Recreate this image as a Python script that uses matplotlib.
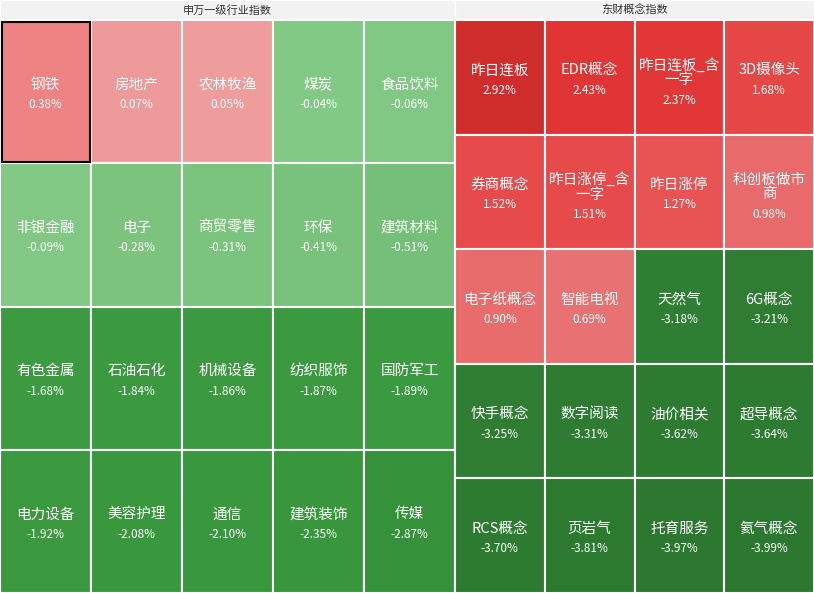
import matplotlib
matplotlib.use("Agg")
import matplotlib.pyplot as plt
import numpy as np
from matplotlib.colors import to_rgb

plt.rcParams['font.family'] = ['Noto Sans CJK SC', 'DejaVu Sans']

left_title = "申万一级行业指数"
left_names = ["钢铁", "房地产", "农林牧渔", "煤炭", "食品饮料",
              "非银金融", "电子", "商贸零售", "环保", "建筑材料",
              "有色金属", "石油石化", "机械设备", "纺织服饰", "国防军工",
              "电力设备", "美容护理", "通信", "建筑装饰", "传媒"]
left_values = [0.38, 0.07, 0.05, -0.04, -0.06,
               -0.09, -0.28, -0.31, -0.41, -0.51,
               -1.68, -1.84, -1.86, -1.87, -1.89,
               -1.92, -2.08, -2.10, -2.35, -2.87]

right_title = "东财概念指数"
right_names = ["昨日连板", "EDR概念", "昨日连板_含\n一字", "3D摄像头",
               "券商概念", "昨日涨停_含\n一字", "昨日涨停", "科创板做市\n商",
               "电子纸概念", "智能电视", "天然气", "6G概念",
               "快手概念", "数字阅读", "油价相关", "超导概念",
               "RCS概念", "页岩气", "托育服务", "氦气概念"]
right_values = [2.92, 2.43, 2.37, 1.68,
                1.52, 1.51, 1.27, 0.98,
                0.90, 0.69, -3.18, -3.21,
                -3.25, -3.31, -3.62, -3.64,
                -3.70, -3.81, -3.97, -3.99]

def color_for(v):
    if v >= 0:
        stops = [(0, "#eea0a0"), (0.4, "#ef8080"), (0.7, "#e87070"), (1.0, "#e86a6a"),
                 (1.3, "#e85050"), (1.7, "#e54545"), (2.4, "#e23636"), (3.0, "#cc2a2a")]
    else:
        v = -v
        stops = [(0, "#82c985"), (0.1, "#80c883"), (0.5, "#76c079"), (1.6, "#3c9c41"),
                 (2.9, "#35913a"), (3.2, "#2e7d32"), (4.0, "#2c7830")]
    xs = [s[0] for s in stops]
    cs = np.array([to_rgb(s[1]) for s in stops])
    v = min(max(v, xs[0]), xs[-1])
    return tuple(np.interp(v, xs, cs[:, i]) for i in range(3))

W, H = 814, 593
fig = plt.figure(figsize=(W/100, H/100), dpi=100)
ax = fig.add_axes([0, 0, 1, 1])
ax.set_xlim(0, W); ax.set_ylim(H, 0); ax.axis('off')

def panel(x0, x1, ncol, nrow, names, values, title):
    ax.add_patch(plt.Rectangle((x0, 0), x1-x0, 20, fc="#f2f2f2", ec="white", lw=1))
    ax.text((x0+x1)/2, 10, title, ha='center', va='center', fontsize=8, color="#333333")
    cw = (x1-x0)/ncol; rh = (H-20)/nrow
    for i, (n, v) in enumerate(zip(names, values)):
        r, c = divmod(i, ncol)
        x = x0 + c*cw; y = 20 + r*rh
        ax.add_patch(plt.Rectangle((x, y), cw, rh, fc=color_for(v), ec="white", lw=1.5))
        cy = y + rh/2
        if "\n" in n:
            ax.text(x+cw/2, cy-5, n, ha='center', va='center', fontsize=10.5, color='white', linespacing=1.05)
            ax.text(x+cw/2, cy+23, f"{v:.2f}%", ha='center', va='center', fontsize=8.5, color='white')
        else:
            ax.text(x+cw/2, cy-7, n, ha='center', va='center', fontsize=10.5, color='white')
            ax.text(x+cw/2, cy+13, f"{v:.2f}%", ha='center', va='center', fontsize=8.5, color='white')
    return cw, rh

cw, rh = panel(0, 455, 5, 4, left_names, left_values, left_title)
ax.add_patch(plt.Rectangle((1.5, 21.5), cw-3, rh-3, fc='none', ec='black', lw=1.5))
panel(455, 814, 4, 5, right_names, right_values, right_title)

fig.savefig("out.png", dpi=100)
